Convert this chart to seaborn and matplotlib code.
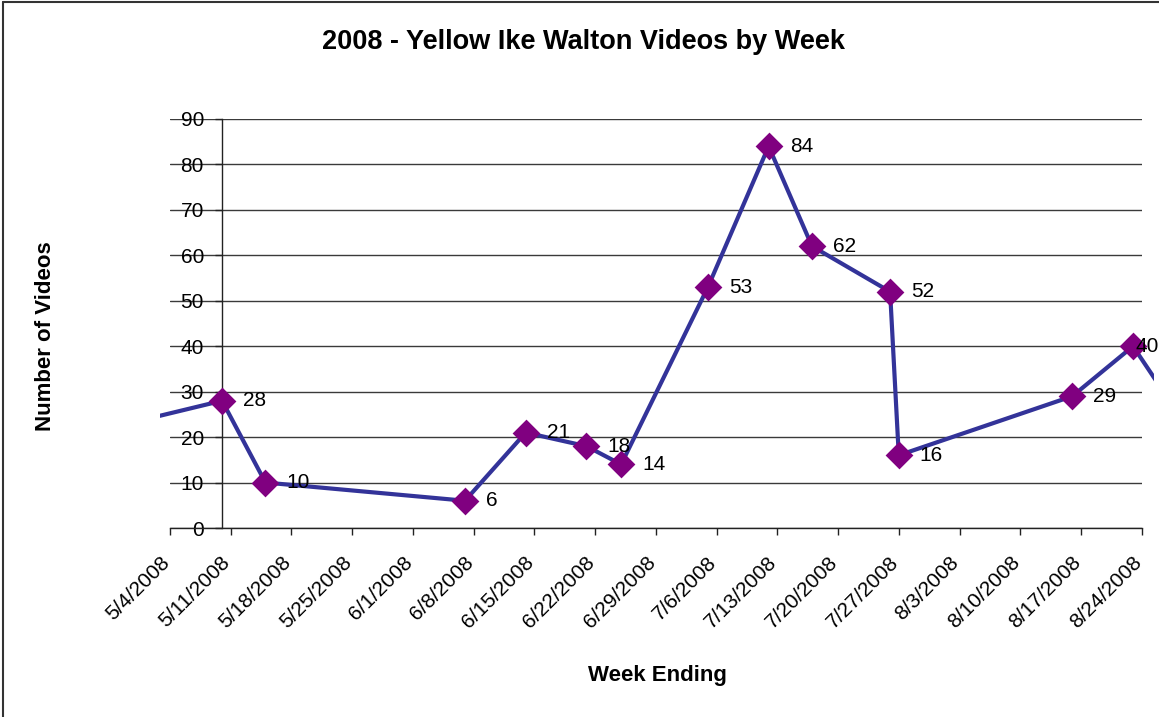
import datetime as dt
import matplotlib
matplotlib.use('Agg')
import matplotlib.pyplot as plt
import matplotlib.dates as mdates
from matplotlib.ticker import FuncFormatter
from matplotlib.transforms import Bbox, ScaledTranslation
from matplotlib.lines import Line2D
import pandas as pd
import seaborn as sns

# data (first and last points lie outside the visible area)
dates = ['2008-04-27', '2008-05-10', '2008-05-15', '2008-06-07', '2008-06-14',
         '2008-06-21', '2008-06-25', '2008-07-05', '2008-07-12', '2008-07-17',
         '2008-07-26', '2008-07-27', '2008-08-16', '2008-08-23', '2008-08-30']
videos = [22, 28, 10, 6, 21, 18, 14, 53, 84, 62, 52, 16, 29, 40, 20]

title = '2008 - Yellow Ike Walton Videos by Week'
xlabel = 'Week Ending'
ylabel = 'Number of Videos'
x_start = dt.datetime(2008, 5, 4)
x_end = dt.datetime(2008, 8, 24)
y_cross = dt.datetime(2008, 5, 10)

df = pd.DataFrame({'week': pd.to_datetime(dates), 'videos': videos})

sns.set_theme(style='white')
plt.rcParams['font.family'] = ['Liberation Sans', 'DejaVu Sans']
plt.rcParams['text.color'] = 'black'

W, H = 1159, 717
fig = plt.figure(figsize=(W / 100, H / 100), dpi=100)
ax = fig.add_axes([170 / W, 1 - 528 / H, (1141.7 - 170) / W, (528 - 119) / H])

sns.lineplot(data=df, x='week', y='videos', ax=ax, color='#333399', lw=3, zorder=3)
sns.scatterplot(data=df, x='week', y='videos', ax=ax, marker='D', s=200,
                color='#800080', edgecolor='#800080', linewidth=0, zorder=4)

# line/markers may run past the plot area but are cut at the chart area
clip = Bbox([[160, 0], [1154, H]])
for ln in ax.lines:
    ln.set_clip_box(clip)
for c in ax.collections:
    c.set_clip_box(clip)

ax.set_xlim(x_start, x_end)
ax.set_ylim(0, 90)
ax.set_yticks(range(0, 91, 10))
ticks = pd.date_range(x_start, x_end, freq='7D')
ax.set_xticks(ticks)
ax.xaxis.set_major_formatter(FuncFormatter(
    lambda v, pos: (lambda d: f'{d.month}/{d.day}/{d.year}')(mdates.num2date(v))))

ax.yaxis.grid(True, color='#3a3a3a', lw=1)
ax.set_axisbelow(True)
ax.get_ygridlines()[-1].set_color('#e4e4e4')

for s in ['top', 'right']:
    ax.spines[s].set_visible(False)
ax.spines['left'].set_position(('data', mdates.date2num(y_cross)))
for s in ['left', 'bottom']:
    ax.spines[s].set_color('#222222')
    ax.spines[s].set_linewidth(1)

ax.tick_params(axis='y', direction='out', length=5, width=1, color='#222222',
               labelsize=15, pad=8, left=True, labelcolor='black')
ax.tick_params(axis='x', direction='out', length=5, width=1, color='#222222',
               labelsize=15, pad=4, bottom=True, labelcolor='black')
shift = ScaledTranslation(-10 / 100, -12 / 100, fig.dpi_scale_trans)
for lab in ax.get_xticklabels():
    lab.set_rotation(45)
    lab.set_ha('right')
    lab.set_va('top')
    lab.set_rotation_mode('anchor')
    lab.set_transform(lab.get_transform() + shift)

ax.set_xlabel('')
ax.set_ylabel('')

# value labels
visible = df[(df['week'] >= x_start) & (df['week'] <= x_end)]
last = visible.index[-1]
for i, r in visible.iterrows():
    off = 2 if i == last else 21
    ax.annotate(str(r['videos']), (r['week'], r['videos']), xytext=(off, 0),
                textcoords='offset pixels', ha='left', va='center', fontsize=15,
                color='black', zorder=5)

fig.text(583 / W, 1 - 42 / H, title, ha='center', va='center', fontsize=19.5,
         fontweight='bold')
fig.text(657 / W, 1 - 675 / H, xlabel, ha='center', va='center', fontsize=16,
         fontweight='bold')
fig.text(46 / W, 1 - 336 / H, ylabel, ha='center', va='center', fontsize=16,
         fontweight='bold', rotation=90)

# chart-area frame (only left and top edges show in the picture)
fig.add_artist(Line2D([3 / W, 3 / W], [0, 1 - 2 / H], color='#333333', lw=1.5))
fig.add_artist(Line2D([3 / W, 1], [1 - 2 / H, 1 - 2 / H], color='#333333', lw=1.5))

fig.savefig('out.png', dpi=100, facecolor='white')
